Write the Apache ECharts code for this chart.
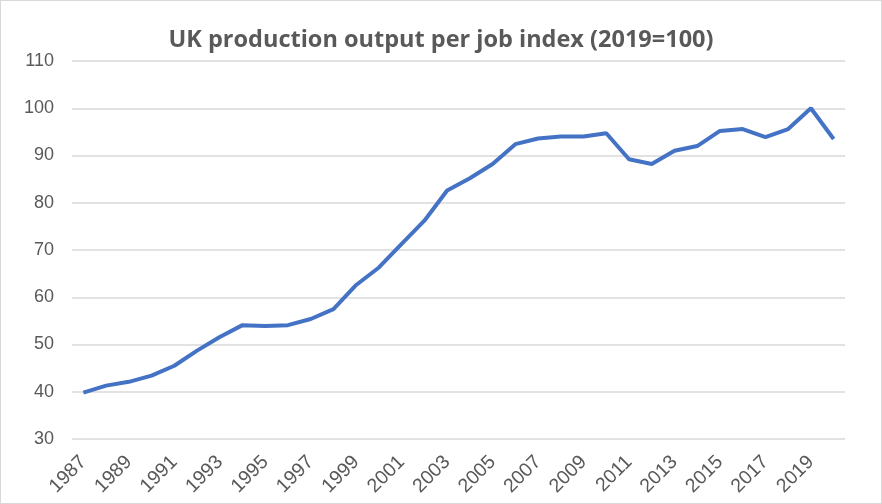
<!DOCTYPE html>
<html><head><meta charset="utf-8">
<script src="https://cdn.jsdelivr.net/npm/echarts@6/dist/echarts.min.js"></script>
<style>html,body{margin:0;padding:0;background:#fff}#c{width:882px;height:504px;box-sizing:border-box;border:1.5px solid #d9d9d9}</style>
</head><body><div id="c"></div>
<script>
const years = ['1987','1988','1989','1990','1991','1992','1993','1994','1995','1996','1997','1998','1999','2000','2001','2002','2003','2004','2005','2006','2007','2008','2009','2010','2011','2012','2013','2014','2015','2016','2017','2018','2019','2020'];
const outputPerJob = [39.8,41.3,42.1,43.4,45.5,48.7,51.6,54.1,53.9,54.1,55.4,57.5,62.6,66.3,71.3,76.2,82.6,85.2,88.2,92.4,93.6,94.0,94.0,94.7,89.2,88.2,91.0,92.0,95.2,95.6,93.9,95.6,100,93.5];
const titleText = 'UK production output per job index (2019=100)';
const chart = echarts.init(document.getElementById('c'));
chart.setOption({
  animation:false,
  title:{text:titleText,left:'center',top:22,textStyle:{fontFamily:'Open Sans',fontWeight:'bold',fontSize:23.5,color:'#595959'}},
  grid:{left:71,right:36,top:60,bottom:64,containLabel:false},
  xAxis:{type:'category',data:years,boundaryGap:true,
    axisLine:{show:false},axisTick:{show:false},
    axisLabel:{interval:1,rotate:45,color:'#595959',fontSize:19.5,fontFamily:'Liberation Sans',margin:20}},
  yAxis:{type:'value',min:30,max:110,interval:10,
    axisLine:{show:false},axisTick:{show:false},
    axisLabel:{color:'#595959',fontSize:18,fontFamily:'Liberation Sans',margin:18},
    splitLine:{lineStyle:{color:'#d9d9d9',width:1.5}}},
  series:[{type:'line',data:outputPerJob,showSymbol:false,symbol:'none',lineStyle:{color:'#4472c4',width:4},z:3}]
});
</script></body></html>
